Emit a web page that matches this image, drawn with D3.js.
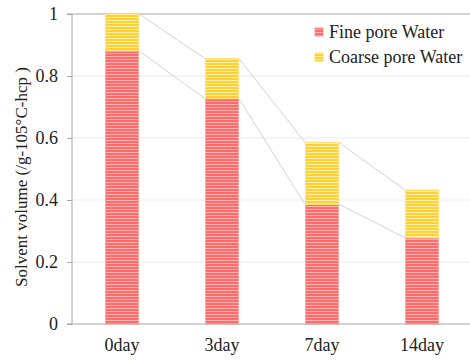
<!DOCTYPE html>
<html><head><meta charset="utf-8">
<script src="https://cdn.jsdelivr.net/npm/d3@7"></script>
<style>body{margin:0;background:#fff}svg{display:block}
svg text{font-family:"Liberation Serif","Times New Roman",serif;}</style>
</head><body><svg id="c" width="470" height="361"></svg>
<script>
const categories = ["0day","3day","7day","14day"];
const fineWater = [0.881, 0.727, 0.386, 0.278];
const coarseWater = [0.119, 0.129, 0.200, 0.154];
const yTicks = [0, 0.2, 0.4, 0.6, 0.8, 1];
const seriesNames = ["Fine pore Water","Coarse pore Water"];

const svg = d3.select("#c");
const m = {l:72, r:-2, t:14, b:37};
const W = 470, H = 361;
const x = d3.scaleBand().domain(categories).range([m.l, W - m.r]).paddingInner(0.66).paddingOuter(0.33);
const y = d3.scaleLinear().domain([0,1]).range([H - m.b, m.t]);
const FS = 18;

const defs = svg.append("defs");
function pat(id, base, light){
  const p = defs.append("pattern").attr("id", id).attr("patternUnits","userSpaceOnUse")
    .attr("width", 6).attr("height", 3);
  p.append("rect").attr("width",6).attr("height",3).attr("fill", light);
  p.append("rect").attr("width",6).attr("height",2).attr("fill", base);
}
pat("pf", "#ff6b6b", "#ffb3b3");
pat("pc", "#ffcf33", "#fff2b0");

// gridlines
svg.append("g").selectAll("line").data(yTicks.filter(d=>d>0 && d<1)).join("line")
  .attr("x1", m.l).attr("x2", W).attr("y1", d=>y(d)).attr("y2", d=>y(d))
  .attr("stroke", "#ebebeb").attr("stroke-width", 1);
// top line
svg.append("line").attr("x1", m.l).attr("x2", W).attr("y1", y(1)).attr("y2", y(1))
  .attr("stroke", "#a6a6a6").attr("stroke-width", 1.2);

// connecting lines
const fineTop = fineWater;
const totTop = fineWater.map((d,i)=>d + coarseWater[i]);
[fineTop, totTop].forEach(arr=>{
  for(let i=0;i<categories.length-1;i++){
    svg.append("line")
      .attr("x1", x(categories[i]) + x.bandwidth()).attr("y1", y(arr[i]))
      .attr("x2", x(categories[i+1])).attr("y2", y(arr[i+1]))
      .attr("stroke", "#d4d4d4").attr("stroke-width", 1);
  }
});

// bars
const g = svg.append("g");
categories.forEach((c,i)=>{
  g.append("rect").attr("x", x(c)+0.5).attr("width", x.bandwidth()-1)
    .attr("y", y(fineWater[i])).attr("height", y(0) - y(fineWater[i]))
    .attr("fill", "url(#pf)").attr("stroke", "#ffa3a3").attr("stroke-width", 1);
  g.append("rect").attr("x", x(c)+0.5).attr("width", x.bandwidth()-1)
    .attr("y", y(totTop[i])).attr("height", y(fineWater[i]) - y(totTop[i]))
    .attr("fill", "url(#pc)").attr("stroke", "#ffe07a").attr("stroke-width", 1);
});

// axes
const ya = svg.append("g").attr("transform", `translate(${m.l},0)`)
  .call(d3.axisLeft(y).tickValues(yTicks).tickFormat(d=>d===0?"0":(d===1?"1":d3.format(".1f")(d))).tickSize(5).tickPadding(9));
ya.attr("font-family", null).attr("font-size", null);
ya.select(".domain").attr("stroke", "#a6a6a6").attr("d", `M-5,${y(1)}H0V${y(0)}`);
ya.selectAll(".tick line").attr("stroke", "#a6a6a6");
ya.selectAll("text").style("font-size", FS+"px").attr("fill", "#222");

const xa = svg.append("g").attr("transform", `translate(0,${y(0)})`)
  .call(d3.axisBottom(x).tickSize(0).tickPadding(14));
xa.attr("font-family", null).attr("font-size", null);
xa.select(".domain").attr("stroke", "#a6a6a6").attr("stroke-width", 1.2).attr("d", `M${m.l-5},0H${W}`);
xa.selectAll("text").style("font-size", FS+"px").attr("fill", "#222");

// y label
svg.append("text").attr("transform", `translate(27,${(y(0)+y(1))/2+8}) rotate(-90)`)
  .attr("text-anchor","middle").style("font-size", "17px").attr("fill","#222")
  .text("Solvent volume (/g-105°C-hcp )");

// legend
const lg = svg.append("g");
seriesNames.forEach((n,i)=>{
  const yy = 38 + i*25;
  lg.append("rect").attr("x", 315).attr("y", yy-10).attr("width", 8).attr("height", 8)
    .attr("fill", i===0?"url(#pf)":"url(#pc)").attr("stroke", i===0?"#ff8080":"#ffd54f").attr("stroke-width",0.8);
  lg.append("text").attr("x", 329).attr("y", yy).style("font-size", FS+"px")
    .attr("fill","#222").text(n);
});
</script></body></html>
